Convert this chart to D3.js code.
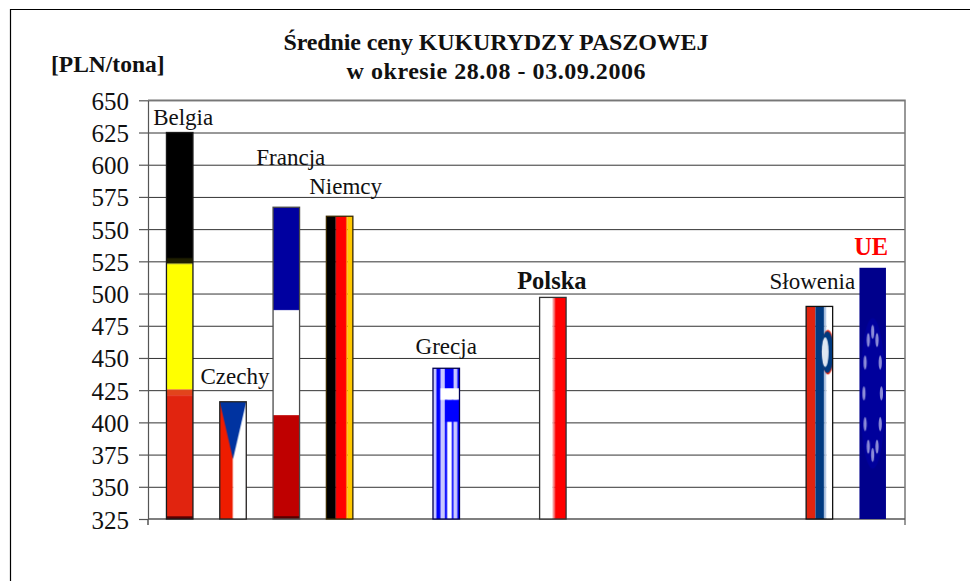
<!DOCTYPE html>
<head>
  <meta charset="utf-8">
  <script src="https://d3js.org/d3.v7.min.js"></script>
  <style>
    html, body { margin: 0; padding: 0; background: #fff; }
    svg { display: block; }
    text { font-family: "Liberation Serif", serif; fill: #111; }
    .grid line { stroke: #333; stroke-width: 1; }
    .grid path { display: none; }
    .y-axis path, .y-axis line { stroke: #555; stroke-width: 1.2; }
    .y-axis text { font-size: 25px; }
    .title { font-size: 24px; font-weight: bold; text-anchor: middle; }
    .unit { font-size: 23.5px; font-weight: bold; }
    .label { font-size: 23px; text-anchor: middle; }
  </style>
</head>
<body>
<div id="chart"></div>
<script>
// values, empty slots are countries with no price that week
var categories = ["Belgia", "Czechy", "Francja", "Niemcy", "-1", "Grecja", "-2", "Polska", "-3", "-4", "-5", "-6", "Słowenia", "UE"];
var prices = [625, 416, 567, 560, null, 442, null, 497, null, null, null, null, 490, 520];
var yTicks = [325, 350, 375, 400, 425, 450, 475, 500, 525, 550, 575, 600, 625, 650];
var titleLines = ["Średnie ceny KUKURYDZY PASZOWEJ", "w okresie 28.08 - 03.09.2006"];
var unitLabel = "[PLN/tona]";

var width = 970, height = 581;
var plot = {left: 148, right: 905, top: 100.3, bottom: 519};
var barWidth = 26.5;
var titleWidths = [425, 299];

var svg = d3.select("#chart").append("svg")
    .attr("width", width)
    .attr("height", height);

var x = d3.scalePoint().domain(categories).range([179.7, 872.7]);
var y = d3.scaleLinear().domain([325, 650]).range([plot.bottom, plot.top]);

//====| Flags |=====\\
var defs = svg.append("defs");

function flag(id) {
  return defs.append("pattern")
      .attr("id", id)
      .attr("width", 1)
      .attr("height", 1)
      .attr("patternContentUnits", "objectBoundingBox");
}
function box(p, bx, by, bw, bh, fill) {
  p.append("rect").attr("x", bx).attr("y", by).attr("width", bw).attr("height", bh).attr("fill", fill);
}

var belgia = flag("flag-Belgia");
box(belgia, 0, 0, 1, 0.33, "#000");
box(belgia, 0, 0.325, 1, 0.015, "#1f1f00");
box(belgia, 0, 0.34, 1, 0.325, "#ffff00");
box(belgia, 0, 0.665, 1, 0.015, "#e2441c");
box(belgia, 0, 0.68, 1, 0.32, "#e1240f");
box(belgia, 0, 0.993, 1, 0.007, "#5a0000");

var czechy = flag("flag-Czechy");
box(czechy, 0, 0, 0.5, 1, "#ee1c00");
box(czechy, 0.5, 0, 0.5, 1, "#fff");
czechy.append("path").attr("d", "M0,0L1,0L0.5,0.49Z").attr("fill", "#0033a0");

var francja = flag("flag-Francja");
box(francja, 0, 0, 1, 0.33, "#0000a0");
box(francja, 0, 0.33, 1, 0.34, "#fff");
box(francja, 0, 0.667, 1, 0.333, "#bf0000");
box(francja, 0, 0.991, 1, 0.009, "#5a0000");

var niemcy = flag("flag-Niemcy");
box(niemcy, 0, 0, 0.36, 1, "#000");
box(niemcy, 0.36, 0, 0.38, 1, "#ff0000");
box(niemcy, 0.74, 0, 0.06, 1, "#ff8000");
box(niemcy, 0.8, 0, 0.2, 1, "#ffc800");

var grecja = flag("flag-Grecja");
box(grecja, 0, 0, 1, 1, "#c8c8ff");
box(grecja, 0.13, 0, 0.15, 1, "#0000ff");
box(grecja, 0.45, 0, 0.09, 1, "#0000ff");
box(grecja, 0.54, 0.355, 0.17, 0.645, "#fff");
box(grecja, 0.71, 0, 0.06, 1, "#0000ff");
box(grecja, 0.92, 0, 0.08, 1, "#0000ff");
box(grecja, 0.45, 0, 0.32, 0.133, "#0000ff");
box(grecja, 0.28, 0.133, 0.72, 0.077, "#fff");
box(grecja, 0.45, 0.21, 0.55, 0.145, "#0000ff");

var polska = flag("flag-Polska");
box(polska, 0, 0, 0.5, 1, "#fff");
box(polska, 0.5, 0, 0.07, 1, "#f08080");
box(polska, 0.57, 0, 0.43, 1, "#ff0000");

var slowenia = flag("flag-Słowenia");
box(slowenia, 0, 0, 0.35, 1, "#e1240f");
box(slowenia, 0.35, 0, 0.33, 1, "#003a80");
box(slowenia, 0.68, 0, 0.08, 1, "#a8bfe0");
box(slowenia, 0.76, 0, 0.24, 1, "#fff");
slowenia.append("ellipse").attr("cx", 0.82).attr("cy", 0.215).attr("rx", 0.24).attr("ry", 0.105).attr("fill", "#e1240f");
slowenia.append("ellipse").attr("cx", 0.8).attr("cy", 0.215).attr("rx", 0.24).attr("ry", 0.098).attr("fill", "#003a80");
slowenia.append("ellipse").attr("cx", 0.72).attr("cy", 0.215).attr("rx", 0.13).attr("ry", 0.07).attr("fill", "#dde6f2");

var ue = flag("flag-UE");
box(ue, 0, 0, 1, 1, "#00008c");
ue.append("ellipse").attr("cx", 0.5).attr("cy", 0.5).attr("rx", 0.48).attr("ry", 0.3).attr("fill", "#00009c");
d3.range(12).forEach(function(i) {
  var a = i * Math.PI / 6;
  ue.append("ellipse")
      .attr("cx", 0.5 + 0.33 * Math.sin(a))
      .attr("cy", 0.5 - 0.245 * Math.cos(a))
      .attr("rx", 0.06)
      .attr("ry", 0.028)
      .attr("fill", "#8c8cd8");
});

// bar outline colour, UE has none
var outlines = {
  "Belgia": "#1a1a1a", "Czechy": "#222", "Francja": "#4a4a4a", "Niemcy": "#3a2a00",
  "Grecja": "#000050", "Polska": "#333", "Słowenia": "#111", "UE": "none"
};

// where each name sits, measured from the middle and the top of its bar
var labelOffsets = {
  "Belgia": [3.5, -8], "Czechy": [2, -18], "Francja": [4.5, -42], "Niemcy": [6, -22],
  "Grecja": [0, -14], "Polska": [-1, -8], "Słowenia": [-7, -17], "UE": [-1.5, -13]
};

//====| Axes |=====\\
// outer frame, only top and left are left in the picture
svg.append("path")
    .attr("d", "M970,9.5H10.5V581")
    .attr("fill", "none")
    .attr("stroke", "#000")
    .attr("stroke-width", 1.2);

svg.append("g")
    .attr("class", "grid")
    .attr("transform", "translate(" + plot.left + ",0)")
    .call(d3.axisLeft(y).tickValues(yTicks.slice(1)).tickSize(plot.left - plot.right).tickFormat(""));

var yAxis = svg.append("g")
    .attr("class", "y-axis")
    .attr("transform", "translate(" + plot.left + ",0)")
    .call(d3.axisLeft(y).tickValues(yTicks).tickSize(9).tickSizeOuter(0).tickPadding(10));
yAxis.selectAll("text").attr("dy", "0.36em").attr("fill", "#111");

// plot frame with the two little ticks under the base line
svg.append("path")
    .attr("d", "M" + plot.left + "," + plot.top + "H" + plot.right + "V" + (plot.bottom + 6))
    .attr("fill", "none")
    .attr("stroke", "#777")
    .attr("stroke-width", 1.5);
svg.append("path")
    .attr("d", "M" + plot.left + "," + plot.bottom + "V" + (plot.bottom + 6)
        + "M" + plot.left + "," + plot.bottom + "H" + plot.right)
    .attr("fill", "none")
    .attr("stroke", "#555")
    .attr("stroke-width", 1.5);

//====| Bars |=====\\
var rows = categories.map(function(c, i) { return {name: c, value: prices[i]}; })
    .filter(function(d) { return d.value !== null; });

svg.selectAll(".bar")
    .data(rows)
  .enter().append("rect")
    .attr("class", "bar")
    .attr("x", function(d) { return x(d.name) - barWidth / 2; })
    .attr("y", function(d) { return y(d.value); })
    .attr("width", barWidth)
    .attr("height", function(d) { return y(325) - y(d.value); })
    .attr("fill", function(d) { return "url(#flag-" + d.name + ")"; })
    .attr("stroke", function(d) { return outlines[d.name]; })
    .attr("stroke-width", 1.3);

svg.selectAll(".label")
    .data(rows)
  .enter().append("text")
    .attr("class", "label")
    .attr("x", function(d) { return x(d.name) + labelOffsets[d.name][0]; })
    .attr("y", function(d) { return y(d.value) + labelOffsets[d.name][1]; })
    .style("font-weight", function(d) { return d.name === "Polska" || d.name === "UE" ? "bold" : null; })
    .style("font-size", function(d) { return d.name === "Polska" || d.name === "UE" ? "24.5px" : null; })
    .style("fill", function(d) { return d.name === "UE" ? "#ff0000" : null; })
    .text(function(d) { return d.name; });

//====| Titles |=====\\
svg.selectAll(".title")
    .data(titleLines)
  .enter().append("text")
    .attr("class", "title")
    .attr("x", 496)
    .attr("y", function(d, i) { return 50 + i * 29; })
    .attr("textLength", function(d, i) { return titleWidths[i]; })
    .attr("lengthAdjust", "spacing")
    .text(function(d) { return d; });

svg.append("text")
    .attr("class", "unit")
    .attr("x", 51)
    .attr("y", 72)
    .text(unitLabel);
</script>
</body>
